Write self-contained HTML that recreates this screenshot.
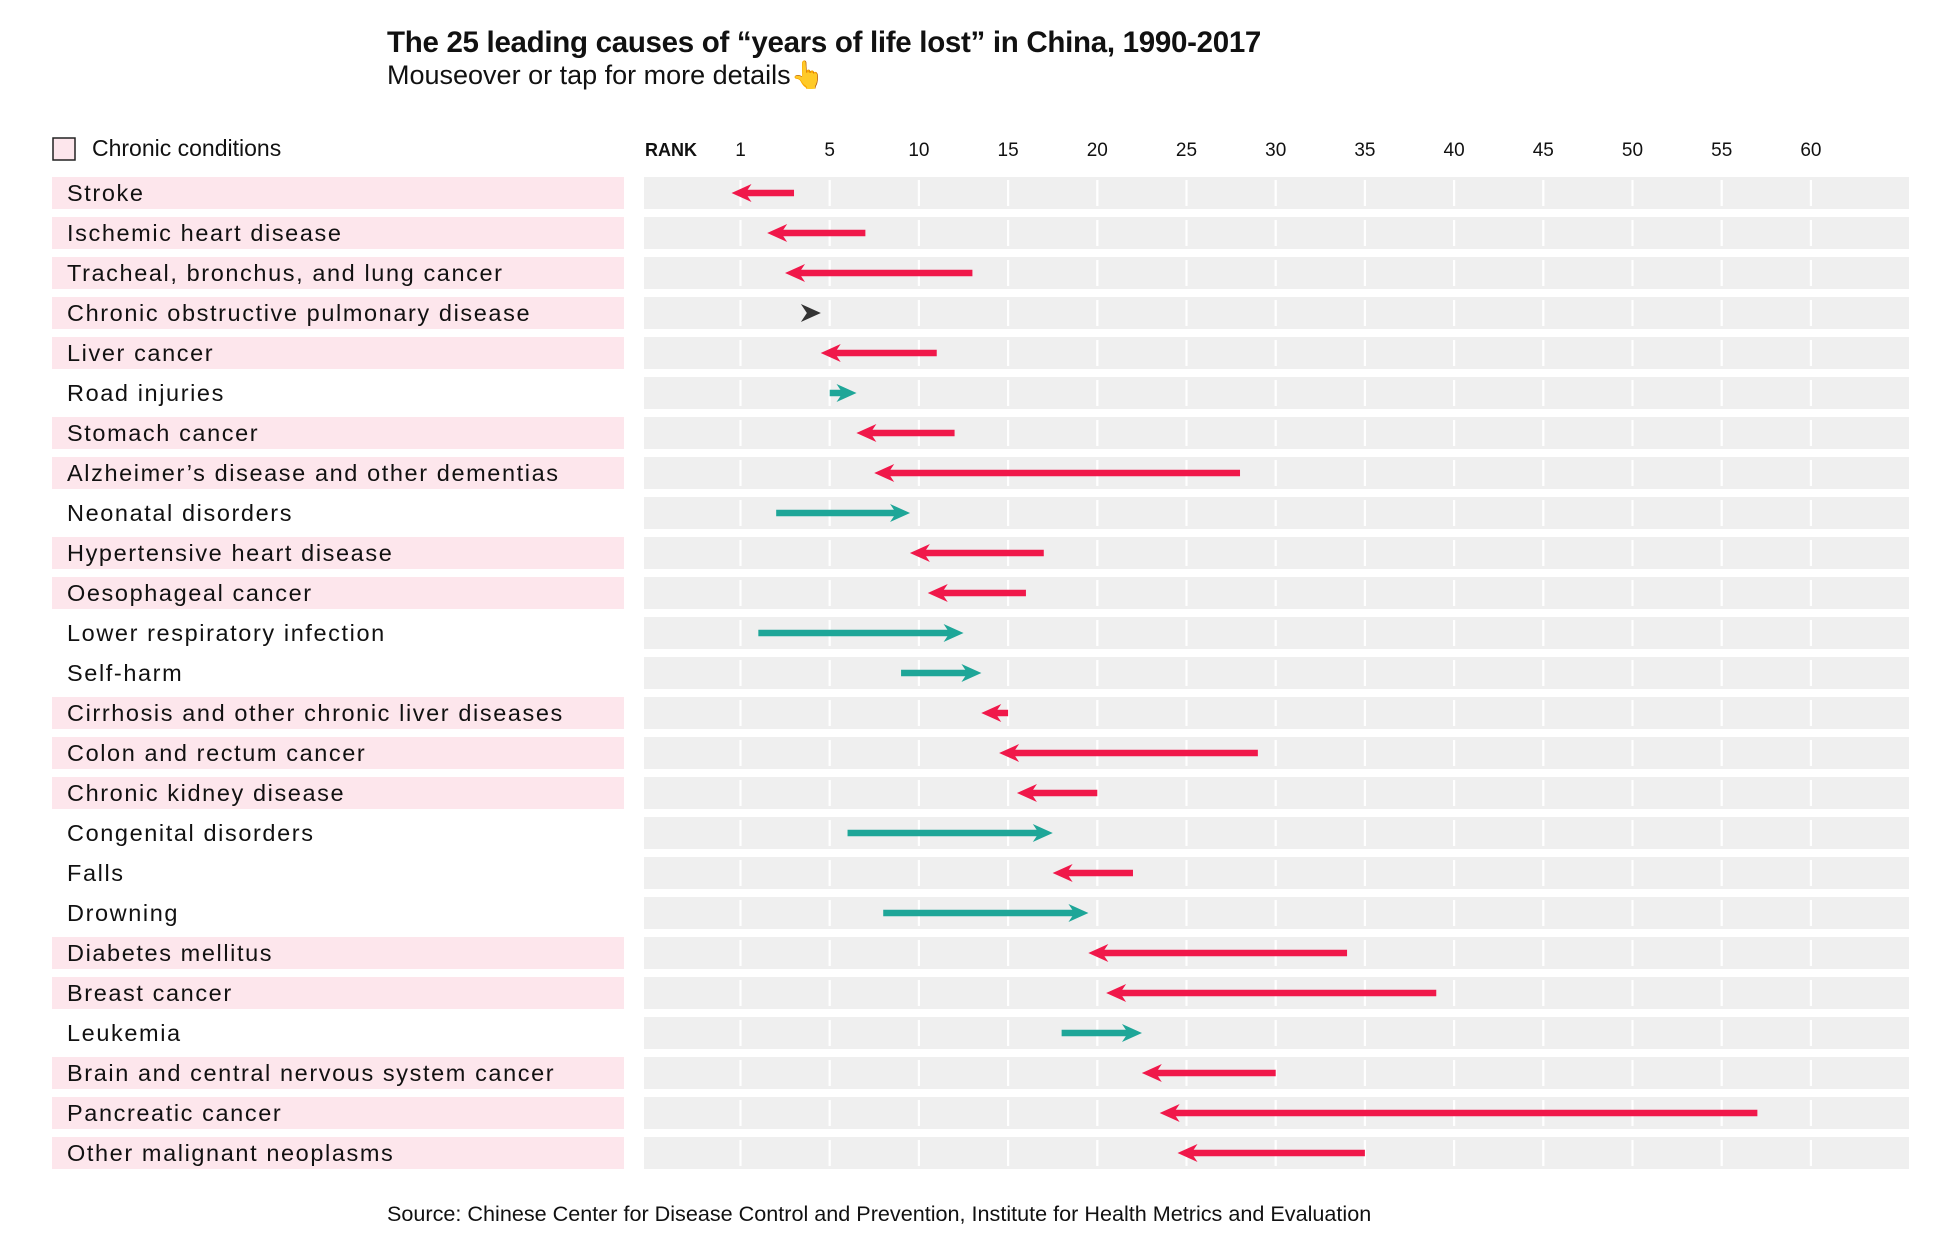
<!DOCTYPE html>
<html><head><meta charset="utf-8"><style>
body{margin:0;background:#fff;width:1958px;height:1250px;overflow:hidden;font-family:"Liberation Sans",sans-serif;}
</style></head><body>
<svg id="chart" width="1958" height="1250" xmlns="http://www.w3.org/2000/svg">
<text x="387" y="52" font-size="29.5" font-weight="bold" fill="#111" letter-spacing="-0.3">The 25 leading causes of “years of life lost” in China, 1990-2017</text>
<text x="387" y="84" font-size="27" fill="#111">Mouseover or tap for more details👆</text>
<rect x="53" y="138" width="22" height="22" fill="#fde6ec" stroke="#222" stroke-width="1.5"/>
<text x="92" y="156" font-size="23" fill="#111">Chronic conditions</text>
<text x="645" y="156" font-size="18" font-weight="bold" fill="#111">RANK</text>
<g id="rows"></g>
<text x="387" y="1221" font-size="21.6" fill="#111">Source: Chinese Center for Disease Control and Prevention, Institute for Health Metrics and Evaluation</text>
</svg>
<script>
const causes = ["Stroke","Ischemic heart disease","Tracheal, bronchus, and lung cancer","Chronic obstructive pulmonary disease","Liver cancer","Road injuries","Stomach cancer","Alzheimer’s disease and other dementias","Neonatal disorders","Hypertensive heart disease","Oesophageal cancer","Lower respiratory infection","Self-harm","Cirrhosis and other chronic liver diseases","Colon and rectum cancer","Chronic kidney disease","Congenital disorders","Falls","Drowning","Diabetes mellitus","Breast cancer","Leukemia","Brain and central nervous system cancer","Pancreatic cancer","Other malignant neoplasms"];
const rank1990 = [3,7,13,4,11,5,12,28,2,17,16,1,9,15,29,20,6,22,8,34,39,18,30,57,35];
const rank2017 = [0,2,3,4,5,6,7,8,9,10,11,12,13,14,15,16,17,18,19,20,21,22,23,24,25];
const chronic = [1,1,1,1,1,0,1,1,0,1,1,0,0,1,1,1,0,0,0,1,1,0,1,1,1];
const tickValues = [0,5,10,15,20,25,30,35,40,45,50,55,60];
const tickLabels = ["1","5","10","15","20","25","30","35","40","45","50","55","60"];

const NS="http://www.w3.org/2000/svg";
const X0=740.5, K=17.84;
function x(r){return X0+r*K;}
function rowY(i){return 177+i*40.0;}
const svg=document.getElementById('chart');
const g=document.getElementById('rows');
function mk(tag,attrs,parent){const e=document.createElementNS(NS,tag);for(const k in attrs)e.setAttribute(k,attrs[k]);(parent||g).appendChild(e);return e;}

tickValues.forEach((v,j)=>{
  const t=mk('text',{x:x(v),y:156,'font-size':19,'text-anchor':'middle',fill:'#111'},svg);
  
  
  t.textContent=tickLabels[j];
});

causes.forEach((c,i)=>{
  const y=rowY(i), h=32, cy=y+h/2;
  if(chronic[i]){
    const lb=mk('rect',{x:52,y:y,width:572,height:h,fill:'#fde6ec'});
    
    
  }
  const t=mk('text',{x:67,y:cy+8,'font-size':23.5,'letter-spacing':1.6,fill:'#111'});
  
  
  t.textContent=c;
  const bg=mk('rect',{x:644,y:y,width:1265,height:h,fill:'#efefef'});
  
  
  tickValues.forEach(v=>{
    const l=mk('line',{x1:x(v),x2:x(v),y1:y+3,y2:y+h-3,stroke:'#fff','stroke-width':2.2});
    
    
  });
  const a=rank1990[i], b=rank2017[i];
  const xa=x(a), xb=x(b);
  let col, dir;
  if(b<a){col='#f0184a';dir=-1;} else if(b>a){col='#1ea698';dir=1;} else {col='#333';dir=1;}
  if(a!==b){
    const ln=mk('line',{x1:xa,x2:xb-dir*4,y1:cy,y2:cy,stroke:col,'stroke-width':6.5});
    
    
  }
  const tip=xb+dir*9, back=tip-dir*20, notch=tip-dir*14;
  const hd=mk('polygon',{points:`${tip},${cy} ${back},${cy-9} ${notch},${cy} ${back},${cy+9}`,fill:col});
  
  
});
</script>
</body></html>
